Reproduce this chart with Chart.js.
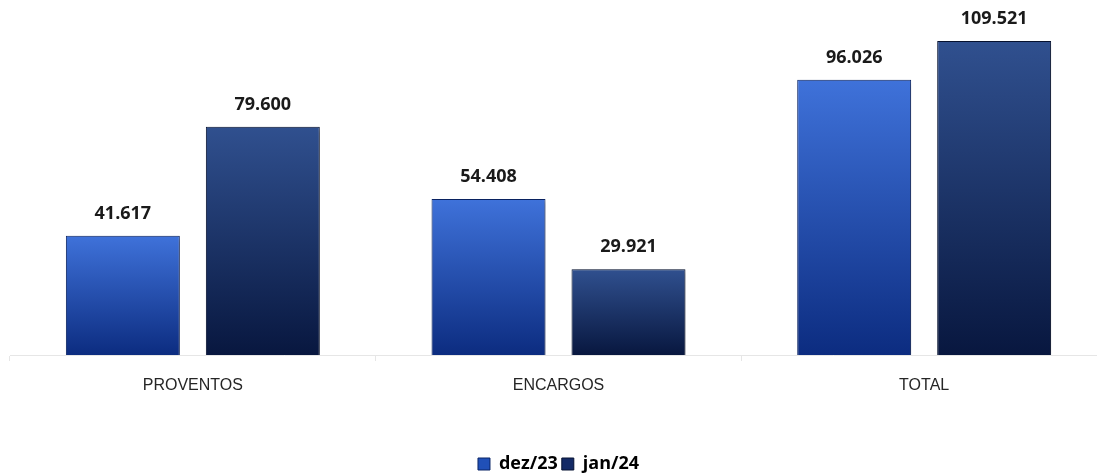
<!DOCTYPE html>
<html>
<head>
<meta charset="utf-8">
<script src="https://cdn.jsdelivr.net/npm/chart.js@4.4.1/dist/chart.umd.min.js"></script>
<style>
  body { margin: 0; background: #fff; overflow: hidden; }
  #wrap { width: 1107px; height: 483px; }
</style>
</head>
<body>
<div id="wrap"><canvas id="grafico"></canvas></div>
<script>
const categorias = ["PROVENTOS", "ENCARGOS", "TOTAL"];
const dez23 = [41.617, 54.408, 96.026];
const jan24 = [79.600, 29.921, 109.521];
const nomesSeries = ["dez/23", "jan/24"];

// cores do degrade (topo, base)
const coresDez = ["#3f72da", "#0c2c80"];
const coresJan = ["#30508f", "#08173f"];

// degrade por barra, do topo da barra ate a base
const degrade = (cores) => (ctx) => {
    const chart = ctx.chart;
    const y = chart.scales.y;
    if (!y || ctx.raw === undefined) return cores[1];
    const topo = y.getPixelForValue(ctx.raw);
    const base = y.getPixelForValue(0);
    if (!isFinite(topo) || !isFinite(base) || topo === base) return cores[1];
    const g = chart.ctx.createLinearGradient(0, topo, 0, base);
    g.addColorStop(0, cores[0]);
    g.addColorStop(1, cores[1]);
    return g;
};

const formatar = (v) => v.toFixed(3);

// sombra das barras
const sombra = {
    id: "sombra",
    beforeDatasetsDraw(chart) {
        const c = chart.ctx;
        c.save();
        c.shadowColor = "rgba(0,0,0,0.35)";
        c.shadowBlur = 5;
        c.shadowOffsetX = 2;
        c.shadowOffsetY = 2;
    },
    afterDatasetsDraw(chart) {
        chart.ctx.restore();
    }
};

// rotulos de valor acima das barras
const rotulos = {
    id: "rotulos",
    afterDraw(chart) {
        const c = chart.ctx;
        c.save();
        c.font = "bold 18px 'Open Sans'";
        c.fillStyle = "#1a1a1a";
        c.textAlign = "center";
        c.textBaseline = "middle";
        chart.data.datasets.forEach((ds, i) => {
            const meta = chart.getDatasetMeta(i);
            meta.data.forEach((bar, j) => {
                c.fillText(formatar(ds.data[j]), bar.x, bar.y - 22);
            });
        });
        c.restore();
    }
};

new Chart(document.getElementById("grafico"), {
    type: "bar",
    data: {
        labels: categorias,
        datasets: [
            { label: nomesSeries[0], data: dez23, backgroundColor: degrade(coresDez),
              borderColor: "#0a2466", borderWidth: 1, legendColor: "#2050b8" },
            { label: nomesSeries[1], data: jan24, backgroundColor: degrade(coresJan),
              borderColor: "#061232", borderWidth: 1, legendColor: "#142a66" }
        ]
    },
    options: {
        responsive: true,
        maintainAspectRatio: false,
        animation: false,
        layout: { padding: { top: 11, left: 10, right: 0, bottom: 0 } },
        datasets: { bar: { categoryPercentage: 0.7656, barPercentage: 0.814 } },
        scales: {
            x: {
                grid: { drawOnChartArea: false, color: "#e6e6e6", tickLength: 6 },
                border: { color: "#e6e6e6" },
                ticks: { color: "#262626", padding: 15, font: { family: "'Liberation Sans'", size: 16 } },
                title: { display: true, text: " ", color: "rgba(0,0,0,0)", font: { size: 34 }, padding: 0 }
            },
            y: { display: false, min: 0, max: 120 }
        },
        plugins: {
            tooltip: { enabled: false },
            legend: {
                position: "bottom",
                labels: {
                    color: "#1a1a1a",
                    boxWidth: 12,
                    boxHeight: 12,
                    padding: 4,
                    font: { family: "'Open Sans'", size: 18, weight: "bold" },
                    generateLabels(chart) {
                        return chart.data.datasets.map((ds, i) => ({
                            text: ds.label,
                            fillStyle: ds.legendColor,
                            strokeStyle: ds.borderColor,
                            lineWidth: 1,
                            datasetIndex: i
                        }));
                    }
                }
            }
        }
    },
    plugins: [sombra, rotulos]
});
</script>
</body>
</html>
